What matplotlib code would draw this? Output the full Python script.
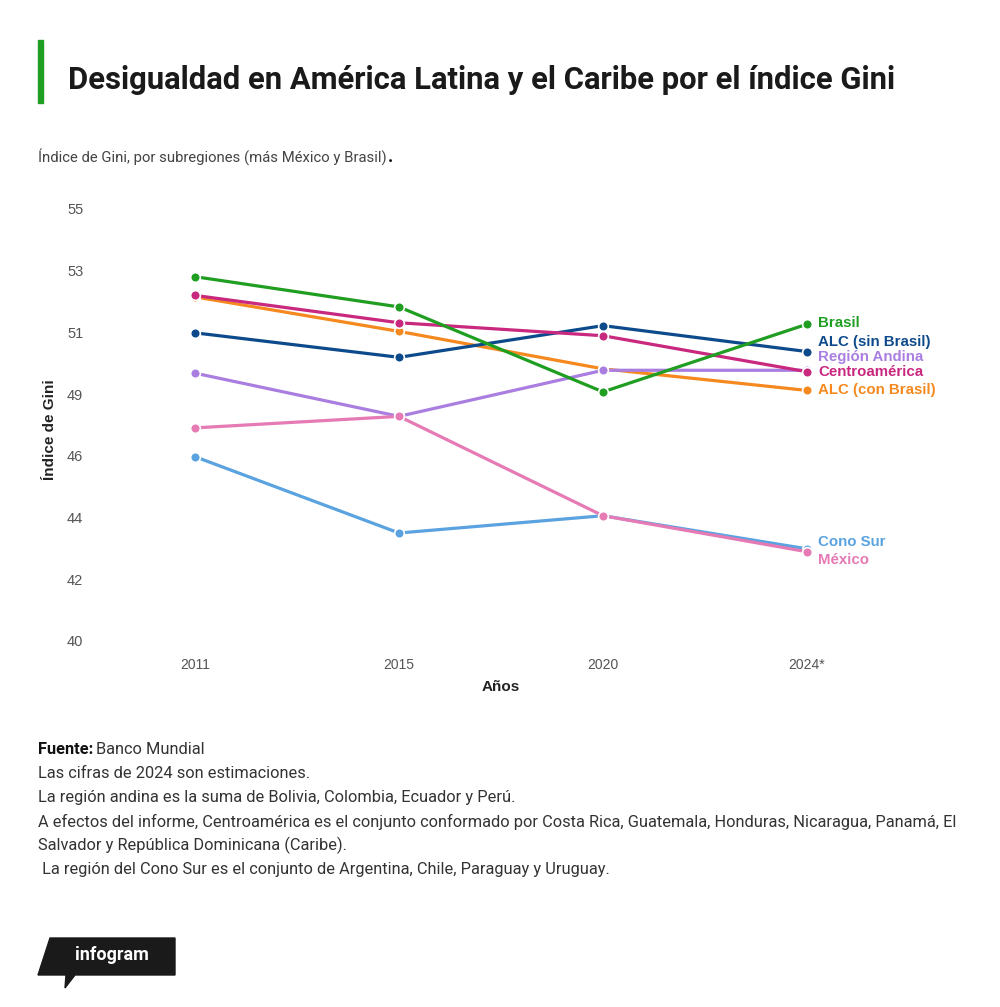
import matplotlib.pyplot as plt
from matplotlib.patches import Polygon, Rectangle

# datos (índice de Gini)
years = ["2011", "2015", "2020", "2024*"]
brasil = [52.65, 51.6, 48.65, 51.0]
alc_sin = [50.7, 49.85, 50.95, 50.05]
andina = [49.3, 47.8, 49.4, 49.4]
centro = [52.0, 51.05, 50.6, 49.35]
alc_con = [51.95, 50.75, 49.45, 48.7]
cono_sur = [46.4, 43.75, 44.35, 43.2]
mexico = [47.4, 47.8, 44.35, 43.1]

ytick_vals = [40 + 15 * k / 7 for k in range(8)]

# orden de dibujo: de abajo hacia arriba (desplazamiento de etiqueta en px)
series = [
    ("ALC (con Brasil)", alc_con, "#f5891f", 0),
    ("ALC (sin Brasil)", alc_sin, "#0d4a8c", 10),
    ("Región Andina", andina, "#a97ee0", 13),
    ("Centroamérica", centro, "#c9287f", 0),
    ("Brasil", brasil, "#1f9e22", 1),
    ("Cono Sur", cono_sur, "#5aa3e0", 7),
    ("México", mexico, "#e57ab5", -8),
]

W, H = 1000, 1007
fig = plt.figure(figsize=(W / 100, H / 100), dpi=100)

def fx(px):
    return px / W

def fy(py):
    return 1 - py / H

ax = fig.add_axes([fx(93), fy(641), fx(816), (641 - 209) / H])
x = list(range(len(years)))
for name, vals, col, dy in series:
    ax.plot(x, vals, color=col, lw=2.3, marker="o", ms=7,
            mfc=col, mec="white", mew=1.2, solid_capstyle="round")
    ax.annotate(name, (x[-1], vals[-1]), xytext=(8, dy * 0.72),
                textcoords="offset points", va="center", ha="left",
                color=col, fontsize=10.8, fontweight="bold",
                family="Liberation Sans", annotation_clip=False)

ax.set_xlim(-0.5, 3.5)
ax.set_ylim(40, 55)
ax.set_xticks(x)
ax.set_xticklabels(years, family="Liberation Sans", fontsize=10, color="#555555")
ax.set_yticks(ytick_vals)
ax.set_yticklabels([str(round(v)) for v in ytick_vals], family="Liberation Sans",
                   fontsize=10.5, color="#555555")
ax.tick_params(length=0, axis="x", pad=12)
ax.tick_params(length=0, axis="y", pad=7)
for s in ax.spines.values():
    s.set_visible(False)
ax.set_xlabel("Años", family="Liberation Sans", fontsize=11, fontweight="bold",
              color="#222222", labelpad=6)

fig.text(fx(50), fy(430), "Índice de Gini", rotation=90, ha="center", va="center",
         family="Liberation Sans", fontsize=11, fontweight="bold", color="#222222")

# título
fig.add_artist(Rectangle((fx(38), fy(103)), fx(5), 63 / H, color="#1f9e22",
                         transform=fig.transFigure))
fig.text(fx(68), fy(80), "Desigualdad en América Latina y el Caribe por el índice Gini",
         family="Roboto", fontsize=22.3, fontweight="bold", color="#1a1a1a",
         va="center", ha="left")
sub = fig.text(fx(38), fy(157), "Índice de Gini, por subregiones (más México y Brasil)",
               family="Roboto", fontsize=10.7, color="#444444", va="center", ha="left")
fig.canvas.draw()
bb = sub.get_window_extent()
fig.text((bb.x1 + 1) / W, fy(157), ".", family="Roboto", fontsize=13,
         fontweight="bold", color="#111111", va="center", ha="left")

# notas
fuente = fig.text(fx(38), fy(750), "Fuente:", family="Roboto", fontsize=11.8,
                  fontweight="bold", color="#111111", va="center")
fig.canvas.draw()
bb = fuente.get_window_extent()
fig.text((bb.x1 + 3) / W, fy(750), "Banco Mundial", family="Roboto", fontsize=11.8,
         color="#333333", va="center")
notes = [
    "Las cifras de 2024 son estimaciones.",
    "La región andina es la suma de Bolivia, Colombia, Ecuador y Perú.",
    "A efectos del informe, Centroamérica es el conjunto conformado por Costa Rica, Guatemala, Honduras, Nicaragua, Panamá, El",
    "Salvador y República Dominicana (Caribe).",
    " La región del Cono Sur es el conjunto de Argentina, Chile, Paraguay y Uruguay.",
]
for i, line in enumerate(notes):
    fig.text(fx(38), fy(774 + i * 23.8), line, family="Roboto", fontsize=11.8,
             color="#333333", va="center", ha="left")

# logo infogram
logo = Polygon([(fx(50), fy(938)), (fx(175), fy(938)), (fx(175), fy(975)),
                (fx(75), fy(975)), (fx(65), fy(988)), (fx(66), fy(975)),
                (fx(38), fy(975))], closed=True, color="#1a1a1a",
               transform=fig.transFigure)
fig.add_artist(logo)
fig.text(fx(112), fy(955), "infogram", family="Roboto", fontsize=13,
         fontweight="bold", color="white", ha="center", va="center")

fig.savefig("out.png", dpi=100, facecolor="white")
